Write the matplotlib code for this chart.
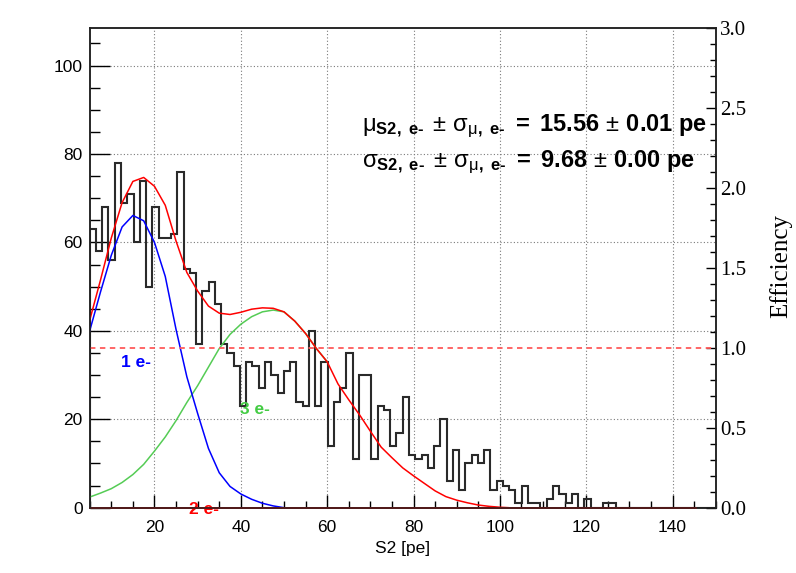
##############################################################################
# S2 single electron spectrum - fit components and efficiency
##############################################################################

import numpy as np
import matplotlib.pyplot as plt
from matplotlib.ticker import MultipleLocator

plt.rcParams["font.family"] = ["Liberation Sans", "DejaVu Sans"]
plt.rcParams["mathtext.fontset"] = "custom"
plt.rcParams["mathtext.rm"] = "Liberation Sans"
plt.rcParams["mathtext.bf"] = "Liberation Sans:bold"
plt.rcParams["mathtext.it"] = "Liberation Sans:italic"
plt.rcParams["mathtext.sf"] = "Liberation Sans"
plt.rcParams["mathtext.default"] = "regular"

##############################################################################
# Data
##############################################################################

# histogram: 100 bins between 5 and 150 pe
x_min = 5
x_max = 150
n_bins = 100
counts = [63, 58, 68, 56, 78, 69, 71, 60, 74, 50,
          68, 61, 61, 62, 76, 54, 53, 37, 49, 51,
          46, 37, 35, 32, 23, 33, 32, 27, 33, 30,
          26, 31, 33, 24, 23, 40, 23, 33, 14, 24,
          27, 35, 11, 30, 30, 11, 23, 22, 14, 17,
          25, 12, 11, 12, 9, 14, 20, 6, 13, 4,
          10, 12, 10, 13, 4, 6, 5, 4, 1, 5,
          1, 1, 0, 2, 5, 3, 1, 3, 0, 2,
          0, 0, 1, 1, 0, 0, 0, 0, 0, 0,
          0, 0, 0, 0, 0, 0, 0, 0, 0, 0]

# 1 e- component
blue_x = [5, 7.5, 10, 12.5, 15, 17.5, 20, 22.5, 25, 27.5, 30, 32.5, 35, 37.5,
          40, 42.5, 45, 47.5, 50]
blue_y = [40.0, 48.8, 57.1, 63.5, 66.1, 64.9, 60.0, 52.3, 40.3, 29.6, 21.3,
          13.4, 7.9, 4.8, 3.1, 1.9, 1.0, 0.4, 0.0]

# 3 e- component
green_x = [5, 7.5, 10, 12.5, 15, 17.5, 20, 22.5, 25, 27.5, 30, 32.5, 35, 37.5,
           40, 42.5, 45, 47.5, 50, 52.5, 55, 57.5, 60]
green_y = [2.4, 3.3, 4.3, 5.7, 7.5, 9.8, 12.8, 16.0, 19.7, 23.8, 27.6, 31.8,
           36.0, 39.2, 41.5, 43.2, 44.3, 44.7, 44.3, 42.2, 39.4, 36.0, 33.0]

# 2 e- component (flat at zero)
two_x = [5, 145.5]
two_y = [0, 0]

# total fit
red_x = [5, 7.5, 10, 12.5, 15, 17.5, 20, 22.5, 25, 27.5, 30, 32.5, 35, 37.5,
         40, 42.5, 45, 47.5, 50, 52.5, 55, 57.5, 60, 62.5, 65, 67.5, 70, 72.5,
         75, 77.5, 80, 82.5, 85, 87.5, 90, 92.5, 95, 97.5, 100, 102]
red_y = [42.4, 51.5, 61.0, 69.0, 73.8, 74.7, 72.7, 68.4, 60.3, 53.2, 49.0,
         45.6, 44.0, 43.7, 44.2, 44.9, 45.2, 45.1, 44.3, 42.2, 39.4, 36.0,
         33.0, 28.0, 24.4, 21.0, 17.3, 13.7, 11.3, 9.0, 7.2, 5.5, 3.8, 2.5,
         1.7, 1.1, 0.6, 0.3, 0.1, 0.0]

efficiency_level = 1.0

##############################################################################
# Figure
##############################################################################

fig = plt.figure(figsize=(7.96, 5.73), dpi=100)
ax = fig.add_axes([0.1127, 0.114, 0.7865, 0.8371])

bin_edges = np.linspace(x_min, x_max, n_bins + 1)

grid_style = dict(color="#7a7a7a", lw=0.8, ls=(0, (1, 2)))
ax.set_axisbelow(True)
ax.grid(True, which="major", **grid_style)

ax.stairs(counts, bin_edges, color="#2a2a2a", lw=1.5, baseline=0, zorder=3)

ax.plot(green_x, green_y, color="#55cc55", lw=1.1, zorder=4)
ax.plot(blue_x, blue_y, color="#0000ff", lw=1.1, zorder=4)
ax.plot(two_x, two_y, color="#ff0000", lw=1.3, zorder=5, clip_on=False)
ax.plot(red_x, red_y, color="#ff0000", lw=1.1, zorder=5)

ax.set_xlim(x_min, x_max)
ax.set_ylim(0, 108.5)

ax.xaxis.set_major_locator(MultipleLocator(20))
ax.xaxis.set_minor_locator(MultipleLocator(5))
ax.yaxis.set_major_locator(MultipleLocator(20))
ax.yaxis.set_minor_locator(MultipleLocator(5))

ax.tick_params(axis="x", which="major", direction="in", length=9.5, width=1.0,
               labelsize=12.5, pad=9, top=False)
ax.tick_params(axis="x", which="minor", direction="in", length=4.7, width=1.0,
               top=False)
ax.tick_params(axis="y", which="major", direction="in", length=14.5, width=1.0,
               labelsize=12.5, pad=5, right=False)
ax.tick_params(axis="y", which="minor", direction="in", length=7.2, width=1.0,
               right=False)

for s in ax.spines.values():
    s.set_linewidth(1.1)
    s.set_color("#222222")

ax.set_xlabel("S2 [pe]", fontsize=12.5, labelpad=4)

# labels of the fit components
ax.text(12.3, 32.8, "1 e-", color="#0000ff", fontsize=12.5, fontweight="bold",
        ha="left", va="center", zorder=6)
ax.text(39.8, 22.1, "3 e-", color="#44cc44", fontsize=12.5, fontweight="bold",
        ha="left", va="center", zorder=6)
ax.text(28.1, -0.3, "2 e-", color="#ff0000", fontsize=12.5, fontweight="bold",
        ha="left", va="center", zorder=6)

# efficiency axis on the right
ax2 = ax.twinx()
ax2.set_ylim(0, 3.0)
ax2.yaxis.set_major_locator(MultipleLocator(0.5))
ax2.yaxis.set_minor_locator(MultipleLocator(0.1))
ax2.tick_params(axis="y", which="major", direction="in", length=7, width=1.0,
                labelsize=15, pad=3)
ax2.tick_params(axis="y", which="minor", direction="in", length=4.5, width=1.0)
ax2.yaxis.set_major_formatter(plt.FuncFormatter(lambda v, p: f"{v:.1f}"))
for lab in ax2.get_yticklabels():
    lab.set_fontfamily("Liberation Serif")
for s in ax2.spines.values():
    s.set_linewidth(1.1)
    s.set_color("#222222")

ax2.axhline(efficiency_level, color="#ff5a5a", lw=1.3, ls=(0, (3, 2.5)),
            zorder=2)

fig.text(781 / 796, 1 - 266 / 573, "Efficiency", rotation=90, fontsize=18,
         family="Liberation Serif", ha="center", va="center")

# fit result
line1 = (r"$\mu_{\mathbf{S2,\ e‐}}\;\pm\,\sigma_{\mu\mathbf{,\ e‐}}\ "
         r"\mathbf{=\ 15.56}\,\pm\,\mathbf{0.01\ pe}$")
line2 = (r"$\sigma_{\mathbf{S2,\ e‐}}\;\pm\,\sigma_{\mu\mathbf{,\ e‐}}\ "
         r"\mathbf{=\ 9.68}\,\pm\,\mathbf{0.00\ pe}$")
fig.text(362 / 796, 1 - 131 / 573, line1, fontsize=17, ha="left",
         va="baseline")
fig.text(362 / 796, 1 - 167 / 573, line2, fontsize=17, ha="left",
         va="baseline")

fig.savefig("out.png", dpi=100)
